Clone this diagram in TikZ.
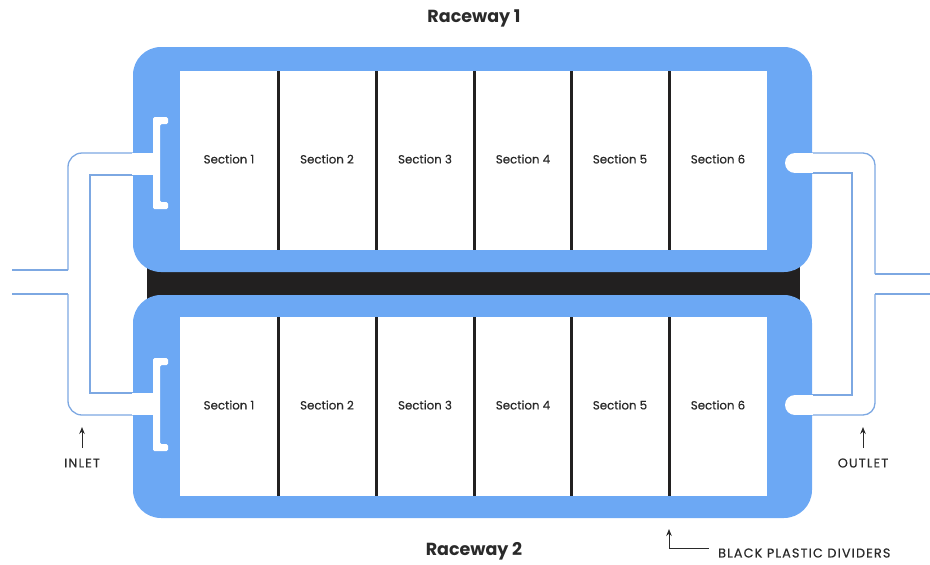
\documentclass[tikz,border=0pt]{standalone}
\usepackage{fontspec}
\setmainfont{Poppins}
\newfontfamily\secfont[FakeBold=0.4]{Poppins}
\newfontfamily\capfont[FakeBold=0.4,LetterSpace=9]{Poppins}
\usetikzlibrary{arrows.meta}
\definecolor{rblue}{HTML}{6CA8F4}
\definecolor{pipeblue}{HTML}{7DA8E2}
\definecolor{band}{HTML}{222020}
\definecolor{txt}{HTML}{2A2A2A}
\tikzset{
  pipe/.style={draw=pipeblue, line width=1.3pt},
  divider/.style={draw=band, line width=3pt},
  seclabel/.style={font=\secfont\fontsize{11.8}{13}\selectfont, text=txt, inner sep=0pt},
  title/.style={font=\bfseries\fontsize{17.5}{20}\selectfont, text=txt, inner sep=0pt},
  caption/.style={font=\capfont\fontsize{12.8}{14}\selectfont, text=txt, inner sep=0pt},
  pointer/.style={draw=txt, line width=1pt, -{Stealth[length=7pt,width=5.5pt]}}
}
\begin{document}
\begin{tikzpicture}[x=1pt,y=-1pt]
\useasboundingbox (0,0) rectangle (930,565);
% ---- left (inlet) pipe outlines
\draw[pipe] (12,270) -- (68,270);
\draw[pipe, rounded corners=14] (68,270) -- (68,153) -- (134,153);
\draw[pipe] (12,294) -- (68,294);
\draw[pipe, rounded corners=14] (68,294) -- (68,415) -- (134,415);
\draw[pipe] (134,175) -- (90,175) -- (90,393) -- (134,393);
% ---- right (outlet) pipe outlines
\draw[pipe, rounded corners=12] (811,153) -- (875,153) -- (875,274);
\draw[pipe] (875,274) -- (930,274);
\draw[pipe, rounded corners=12] (811,415) -- (875,415) -- (875,294);
\draw[pipe] (875,294) -- (930,294);
\draw[pipe] (811,173) -- (852,173) -- (852,395) -- (811,395);
% ---- black band between raceways
\fill[band] (147,262) rectangle (800,305);
% ---- raceways
\fill[rblue, rounded corners=28] (133,47) rectangle (812,272);
\fill[white] (180,71) rectangle (767,250);
\fill[rblue, rounded corners=28] (133,295) rectangle (812,518);
\fill[white] (180,317) rectangle (767,496);
% ---- inlet pipe inside the blue with brackets
\fill[white] (132,153) rectangle (157,175);
\fill[white] (132,393) rectangle (157,415);
\fill[white, rounded corners=1.5] (168,117) -- (153,117) -- (153,209) -- (168,209) -- (168,202) -- (160,202) -- (160,124) -- (168,124) -- cycle;
\fill[white, rounded corners=1.5] (168,358) -- (153,358) -- (153,451) -- (168,451) -- (168,444) -- (160,444) -- (160,365) -- (168,365) -- cycle;
% ---- outlet pipe ends inside the blue
\fill[white] (795,153) rectangle (813,173);
\fill[white] (795,163) circle (10);
\fill[white] (795,395) rectangle (813,415);
\fill[white] (795,405) circle (10);
% ---- dividers
\foreach \x in {278,376,474,571,669}{
  \draw[divider] (\x,71) -- (\x,250);
  \draw[divider] (\x,317) -- (\x,496);
}
% ---- section labels
\foreach \i/\x in {1/229,2/327,3/425,4/523,5/620,6/718}{
  \node[seclabel] (a\i) at (\x,159) {Section \i};
  \node[seclabel] (b\i) at (\x,405) {Section \i};
}
% ---- titles
\node[title] (r1) at (474,18) {Raceway 1};
\node[title] (r2) at (474,551) {Raceway 2};
% ---- inlet / outlet
\node[caption] (inlet) at (82,463) {INLET};
\node[caption] (outlet) at (863,463) {OUTLET};
\coordinate (inA) at (82,427);
\coordinate (outA) at (863,427);
\draw[pointer] (inlet.north |- 0,448) -- (inA);
\draw[pointer] (outlet.north |- 0,448) -- (outA);
% ---- dividers caption
\node[caption, anchor=west] (div) at (718,553) {BLACK PLASTIC DIVIDERS};
\coordinate (divA) at (669,529);
\coordinate (divC) at (669,548);
\draw[draw=txt, line width=1pt] (709,548) -- (divC);
\draw[pointer] (divC) -- (divA);
\end{tikzpicture}
\end{document}
